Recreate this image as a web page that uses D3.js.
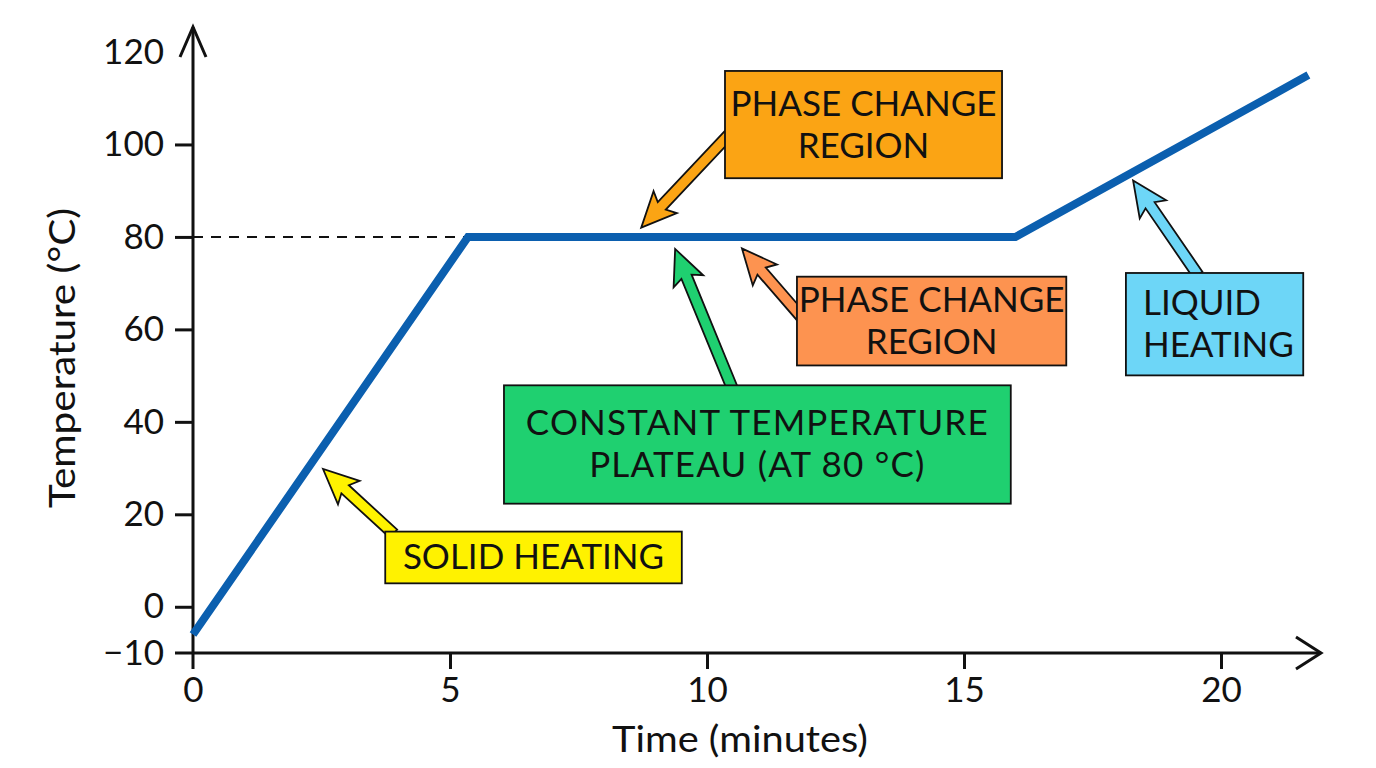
<!DOCTYPE html>
<html>
<head>
<meta charset="utf-8">
<script src="https://cdn.jsdelivr.net/npm/d3@7/dist/d3.min.js"></script>
<style>
  body { margin: 0; background: #fff; }
  svg { display: block; font-family: Lato, "Open Sans", sans-serif; }
</style>
</head>
<body>
<div id="chart"></div>
<script>
// heating curve values
const timeMin = [0, 5.35, 16, 21.7];
const tempC = [-6, 80, 80, 115];
const plateauTemp = 80;
const xTicks = [0, 5, 10, 15, 20];
const yTicks = [-10, 0, 20, 40, 60, 80, 100, 120];
const xTitle = 'Time (minutes)';
const yTitle = 'Temperature (°C)';

// annotation texts
const noteTexts = [
    ['PHASE CHANGE', 'REGION'],
    ['PHASE CHANGE', 'REGION'],
    ['CONSTANT TEMPERATURE', 'PLATEAU (AT 80 °C)'],
    ['LIQUID', 'HEATING'],
    ['SOLID HEATING'],
];

// annotation layout, in data units (minutes / °C)
const noteLayout = [
    { box: [10.35, 15.74, 115.9, 92.7], tail: [10.5, 103], tip: [8.72, 82], fill: '#FBA414', align: 'middle', spacing: 0 },
    { box: [11.75, 16.99, 71.4, 52.2], tail: [11.85, 62.5], tip: [10.68, 77.5], fill: '#FD9350', align: 'middle', spacing: 0 },
    { box: [6.05, 15.91, 47.9, 22.3], tail: [10.49, 47.3], tip: [9.38, 77.4], fill: '#1FD070', align: 'middle', spacing: 1.2 },
    { box: [18.15, 21.6, 72.2, 50.05], tail: [19.55, 71.8], tip: [18.29, 92.2], fill: '#6DD6F7', align: 'start', spacing: 0 },
    { box: [3.74, 9.51, 16.26, 5.07], tail: [3.9, 15.8], tip: [2.53, 29.8], fill: '#FFF200', align: 'middle', spacing: 0 },
];

let svg, xScale, yScale;

function arrowPoints(x0, y0, x1, y1) {
    const sw = 11, hw = 32, hl = 30, sweep = 5;
    const dx = x1 - x0, dy = y1 - y0;
    const L = Math.hypot(dx, dy);
    const ux = dx / L, uy = dy / L;
    const px = -uy, py = ux;
    const bx = x1 - ux * hl, by = y1 - uy * hl;
    return [
        [x0 + px * sw / 2, y0 + py * sw / 2],
        [bx + px * sw / 2, by + py * sw / 2],
        [bx + px * hw / 2 - ux * sweep, by + py * hw / 2 - uy * sweep],
        [x1, y1],
        [bx - px * hw / 2 - ux * sweep, by - py * hw / 2 - uy * sweep],
        [bx - px * sw / 2, by - py * sw / 2],
        [x0 - px * sw / 2, y0 - py * sw / 2],
    ];
}

function drawChart() {
    const width = 1376, height = 768;

    svg = d3.select('#chart').append('svg')
        .attr('width', width)
        .attr('height', height)
        .attr('viewBox', `0 0 ${width} ${height}`);

    xScale = d3.scaleLinear().domain([0, 20]).range([193, 1221]);
    yScale = d3.scaleLinear().domain([-10, 120]).range([653, 52]);

    const x0 = xScale(0), yBase = yScale(-10);

    // dashed guide at plateau temperature
    svg.append('line')
        .attr('x1', x0).attr('x2', xScale(timeMin[1]))
        .attr('y1', yScale(plateauTemp)).attr('y2', yScale(plateauTemp))
        .attr('stroke', '#111').attr('stroke-width', 2)
        .attr('stroke-dasharray', '10,8');

    // y axis ticks + labels
    const gy = svg.append('g')
        .attr('transform', `translate(${x0},0)`)
        .call(d3.axisLeft(yScale).tickValues(yTicks).tickSize(18).tickPadding(11).tickFormat(d3.format('d')));
    gy.select('.domain').remove();
    gy.selectAll('.tick line').attr('stroke', '#111').attr('stroke-width', 3)
        .filter(d => d === 120 || d === -10).remove();
    gy.selectAll('.tick text').attr('fill', '#111').style('font-size', '35px').style('font-family', 'Lato, sans-serif');

    // x axis ticks + labels
    const gx = svg.append('g')
        .attr('transform', `translate(0,${yBase})`)
        .call(d3.axisBottom(xScale).tickValues(xTicks).tickSize(16).tickPadding(8));
    gx.select('.domain').remove();
    gx.selectAll('.tick line').attr('stroke', '#111').attr('stroke-width', 3)
        .filter(d => d === 0).remove();
    gx.selectAll('.tick text').attr('fill', '#111').style('font-size', '35px').style('font-family', 'Lato, sans-serif');

    // axis lines with open arrow heads
    const axisG = svg.append('g').attr('stroke', '#111').attr('stroke-width', 3).attr('fill', 'none');
    axisG.append('line').attr('x1', x0).attr('x2', x0).attr('y1', yBase + 16).attr('y2', 27);
    axisG.append('line').attr('x1', x0 - 18).attr('x2', 1321).attr('y1', yBase).attr('y2', yBase);
    axisG.append('path').attr('d', `M${x0 - 13},57 L${x0},27 L${x0 + 13},57`);
    axisG.append('path').attr('d', `M1296,${yBase - 16} L1321,${yBase} L1296,${yBase + 16}`);

    // axis titles
    svg.append('text')
        .attr('transform', `translate(75,358) rotate(-90)`)
        .attr('text-anchor', 'middle')
        .attr('textLength', 300).attr('lengthAdjust', 'spacingAndGlyphs')
        .style('font-size', '37px').attr('fill', '#111')
        .text(yTitle);

    svg.append('text')
        .attr('x', 740).attr('y', 752)
        .attr('text-anchor', 'middle')
        .attr('textLength', 256).attr('lengthAdjust', 'spacingAndGlyphs')
        .style('font-size', '37px').attr('fill', '#111')
        .text(xTitle);

    // the heating curve
    const pts = timeMin.map((t, i) => [t, tempC[i]]);
    const line = d3.line().x(d => xScale(d[0])).y(d => yScale(d[1]));
    svg.append('path')
        .datum(pts)
        .attr('d', line)
        .attr('fill', 'none')
        .attr('stroke', '#0B5FAF')
        .attr('stroke-width', 8)
        .attr('stroke-linejoin', 'miter');

    // annotations: arrows first, boxes on top
    const notes = svg.append('g').attr('class', 'notes');
    noteLayout.forEach((n) => {
        const pts = arrowPoints(xScale(n.tail[0]), yScale(n.tail[1]), xScale(n.tip[0]), yScale(n.tip[1]));
        notes.append('polygon')
            .attr('points', pts.map(p => p.join(',')).join(' '))
            .attr('fill', n.fill)
            .attr('stroke', '#111')
            .attr('stroke-width', 1.8)
            .attr('stroke-linejoin', 'miter');
    });

    noteLayout.forEach((n, i) => {
        const bx0 = xScale(n.box[0]), bx1 = xScale(n.box[1]);
        const by0 = yScale(n.box[2]), by1 = yScale(n.box[3]);
        notes.append('rect')
            .attr('x', bx0).attr('y', by0)
            .attr('width', bx1 - bx0).attr('height', by1 - by0)
            .attr('fill', n.fill)
            .attr('stroke', '#111')
            .attr('stroke-width', 1.8);

        const lines = noteTexts[i];
        const lh = 42, cy = (by0 + by1) / 2;
        const tx = n.align === 'start' ? bx0 + 17 : (bx0 + bx1) / 2;
        lines.forEach((s, j) => {
            notes.append('text')
                .attr('x', tx)
                .attr('y', cy + (j - (lines.length - 1) / 2) * lh + 12)
                .attr('text-anchor', n.align)
                .attr('fill', '#111')
                .style('font-size', '35px')
                .style('letter-spacing', `${n.spacing}px`)
                .text(s);
        });
    });
}

document.addEventListener('DOMContentLoaded', drawChart);
</script>
</body>
</html>
